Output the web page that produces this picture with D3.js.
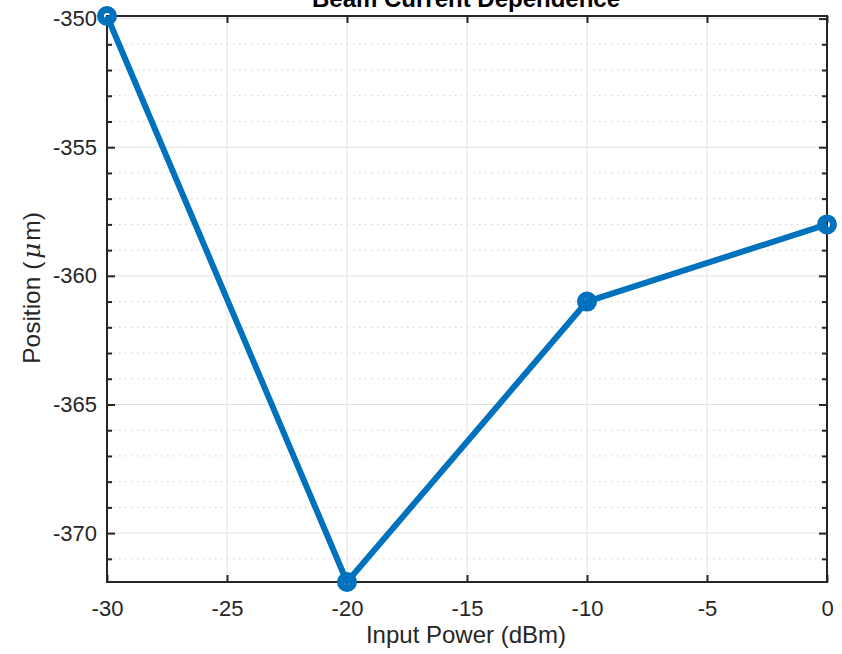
<!DOCTYPE html>
<html>
<head>
<meta charset="utf-8">
<script src="https://cdn.jsdelivr.net/npm/d3@7"></script>
<style>
  html, body { margin: 0; padding: 0; background: #fff; }
  svg { display: block; font-family: "Liberation Sans", Arial, Helvetica, sans-serif; }
</style>
</head>
<body>
<svg id="chart" width="842" height="654"></svg>
<script>
// ---- data ----
const inputPower = [-30, -20, -10, 0];
const positionUm = [-349.9, -371.9, -361, -358];
const xTickValues = [-30, -25, -20, -15, -10, -5, 0];
const yTickValues = [-350, -355, -360, -365, -370];
const yMinorTickValues = d3.range(-371, -349, 1).filter(v => v % 5 !== 0);
const titleText = "Beam Current Dependence";
const xLabelText = "Input Power (dBm)";

// ---- layout ----
const svg = d3.select("#chart");
const L = 107, R = 827, T = 16, B = 582;
const x = d3.scaleLinear().domain([-30, 0]).range([L, R]);
const y = d3.scaleLinear().domain(d3.extent(positionUm)).range([B, T]);

const axisColor = "#262626";
const fmt = d => String(d);

// grid
const g = svg.append("g");
g.selectAll(".ymin").data(yMinorTickValues).join("line")
  .attr("x1", L).attr("x2", R)
  .attr("y1", d => y(d)).attr("y2", d => y(d))
  .attr("stroke", "#cfcfcf").attr("stroke-width", 1)
  .attr("stroke-dasharray", "1.5,4.5");
g.selectAll(".ymaj").data(yTickValues).join("line")
  .attr("x1", L).attr("x2", R)
  .attr("y1", d => y(d)).attr("y2", d => y(d))
  .attr("stroke", "#e2e2e2").attr("stroke-width", 1);
g.selectAll(".xmaj").data(xTickValues).join("line")
  .attr("y1", T).attr("y2", B)
  .attr("x1", d => x(d)).attr("x2", d => x(d))
  .attr("stroke", "#e2e2e2").attr("stroke-width", 1);

// axes via d3 axis generators
const tickFont = 22;
const xAxis = svg.append("g").attr("transform", `translate(0,${B})`)
  .call(d3.axisBottom(x).tickValues(xTickValues).tickSizeInner(-7).tickSizeOuter(0).tickPadding(18).tickFormat(fmt));
const xAxisTop = svg.append("g").attr("transform", `translate(0,${T})`)
  .call(d3.axisTop(x).tickValues(xTickValues).tickSizeInner(-7).tickSizeOuter(0).tickFormat(""));
const yAxis = svg.append("g").attr("transform", `translate(${L},0)`)
  .call(d3.axisLeft(y).tickValues(yTickValues).tickSizeInner(-8).tickSizeOuter(0).tickPadding(10).tickFormat(fmt));
const yAxisR = svg.append("g").attr("transform", `translate(${R},0)`)
  .call(d3.axisRight(y).tickValues(yTickValues).tickSizeInner(-8).tickSizeOuter(0).tickFormat(""));
const yMinL = svg.append("g").attr("transform", `translate(${L},0)`)
  .call(d3.axisLeft(y).tickValues(yMinorTickValues).tickSizeInner(-5).tickSizeOuter(0).tickFormat(""));
const yMinR = svg.append("g").attr("transform", `translate(${R},0)`)
  .call(d3.axisRight(y).tickValues(yMinorTickValues).tickSizeInner(-5).tickSizeOuter(0).tickFormat(""));

[xAxis, xAxisTop, yAxis, yAxisR, yMinL, yMinR].forEach(a => {
  a.select(".domain").remove();
  a.selectAll(".tick line").attr("stroke", axisColor).attr("stroke-width", 2);
  a.selectAll(".tick text").attr("fill", axisColor).attr("font-size", tickFont)
    .attr("font-family", "Liberation Sans, Arial, sans-serif");
});

// box
svg.append("rect").attr("x", L).attr("y", T).attr("width", R - L).attr("height", B - T)
  .attr("fill", "none").attr("stroke", axisColor).attr("stroke-width", 2);

// series
const pts = inputPower.map((v, i) => [v, positionUm[i]]);
const lineColor = "#0072BD";
svg.append("path").datum(pts)
  .attr("d", d3.line().x(d => x(d[0])).y(d => y(d[1])))
  .attr("fill", "none").attr("stroke", lineColor).attr("stroke-width", 6)
  .attr("stroke-linejoin", "round");
svg.selectAll(".mk").data(pts).join("circle")
  .attr("cx", d => x(d[0])).attr("cy", d => y(d[1])).attr("r", 6.5)
  .attr("fill", "none").attr("stroke", lineColor).attr("stroke-width", 7);

// title & labels
svg.append("text").attr("x", (L + R) / 2 - 1).attr("y", 7).attr("text-anchor", "middle")
  .attr("font-size", 24).attr("font-weight", "bold").attr("fill", "#000").text(titleText);
svg.append("text").attr("x", (L + R) / 2 - 1).attr("y", 643).attr("text-anchor", "middle")
  .attr("font-size", 24).attr("fill", axisColor).text(xLabelText);
const yl = svg.append("text").attr("transform", `translate(40,288) rotate(-90)`)
  .attr("text-anchor", "middle").attr("font-size", 24.5).attr("fill", axisColor);
yl.append("tspan").text("Position (");
yl.append("tspan").attr("dx", 3).attr("font-family", "DejaVu Serif, Liberation Serif, serif").attr("font-style", "italic").text("μ");
yl.append("tspan").attr("dx", 2).text("m)");
</script>
</body>
</html>
